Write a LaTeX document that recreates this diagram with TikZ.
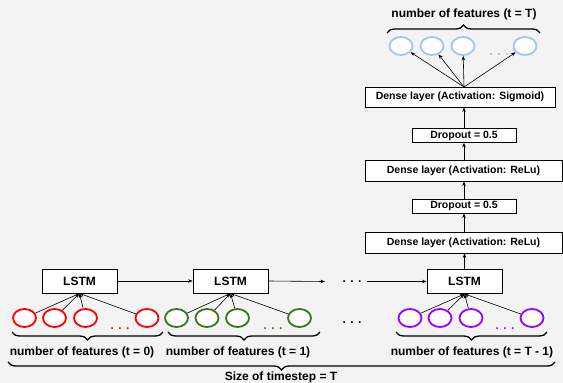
\documentclass[tikz,border=0pt]{standalone}
\usepackage{fontspec}
\setmainfont{Liberation Sans}
\usetikzlibrary{arrows.meta,decorations.pathreplacing,shapes.geometric}
\definecolor{bgc}{HTML}{F3F3F3}
\definecolor{fred}{HTML}{FF0000}
\definecolor{fgreen}{HTML}{38761D}
\definecolor{fpurple}{HTML}{9900FF}
\definecolor{fblue}{HTML}{A4C2F4}
\begin{document}
\begin{tikzpicture}[x=1pt,y=-1pt,
  box/.style={draw=black, fill=white, line width=0.8pt, inner sep=0pt, font=\bfseries\fontsize{10.5}{12}\selectfont},
  lstmbox/.style={box, minimum width=75pt, minimum height=24pt, font=\bfseries\fontsize{12}{14}\selectfont},
  densebox/.style={box, minimum width=197pt, minimum height=21pt},
  dropbox/.style={box, minimum width=104pt, minimum height=14pt},
  feat/.style={ellipse, draw=#1, line width=1.8pt, fill=white, minimum width=23pt, minimum height=18pt, inner sep=0pt},
  arr/.style={-{Stealth[length=4.5pt,width=3.5pt]}, line width=0.6pt},
  brc/.style={decorate, decoration={brace, amplitude=8pt}, line width=1.3pt},
  lbl/.style={font=\bfseries\fontsize{12}{14}\selectfont},
  dotsnode/.style={anchor=base, font=\bfseries\fontsize{12}{14}\selectfont, text=#1, inner sep=0pt}
]
\fill[bgc] (0,0) rectangle (563,383);
\useasboundingbox (0,0) rectangle (563,383);

% LSTM boxes
\node[lstmbox] (l1) at (79.5,281) {LSTM};
\node[lstmbox] (l2) at (230.5,281) {LSTM};
\node[lstmbox] (l3) at (464.5,281.5) {LSTM};
\coordinate (m1) at (325,281.5);
\coordinate (m2) at (367,281.5);
\node[dotsnode=black] (rowdots) at (352,282) {. . .};
\draw[arr] (l1.east) -- (l2.west);
\draw[arr] (l2.east) -- (m1);
\draw[arr] (m2) -- (l3.west);

% feature circles t=0
\node[feat=fred] (r1) at (24.5,318) {};
\node[feat=fred] (r2) at (54.5,318) {};
\node[feat=fred] (r3) at (85.5,318) {};
\node[feat=fred] (r4) at (147,318) {};
\node[dotsnode=fred] (rd) at (120,329) {. . .};
% t=1
\node[feat=fgreen] (g1) at (176.5,318) {};
\node[feat=fgreen] (g2) at (207,318) {};
\node[feat=fgreen] (g3) at (237.5,318) {};
\node[feat=fgreen] (g4) at (299.5,318) {};
\node[dotsnode=fgreen] (gd) at (273,329) {. . .};
% middle dots
\node[dotsnode=black] (md) at (352,323) {. . .};
% t=T-1
\node[feat=fpurple] (p1) at (410,318) {};
\node[feat=fpurple] (p2) at (440,318) {};
\node[feat=fpurple] (p3) at (471,318) {};
\node[feat=fpurple] (p4) at (532,318) {};
\node[dotsnode=fpurple] (pd) at (505,329) {. . .};

\foreach \c in {r1,r2,r3,r4} \draw[arr] (\c) -- (l1.south);
\foreach \c in {g1,g2,g3,g4} \draw[arr] (\c) -- (l2.south);
\foreach \c in {p1,p2,p3,p4} \draw[arr] (\c) -- (l3.south);

% braces bottom
\draw[brc] (163,332) -- (12,332);
\node[lbl] (lab0) at (82,352) {number of features (t = 0)};
\draw[brc] (320,332) -- (168,332);
\node[lbl] (lab1) at (238,352) {number of features (t = 1)};
\draw[brc] (547,332) -- (396,332);
\node[lbl] (lab2) at (472,352) {number of features (t = T - 1)};
\draw[brc] (555,362) -- (8,362);
\node[lbl] (labT) at (281,377) {Size of timestep = T};

% dense stack
\node[densebox] (d1) at (463.5,242.5) {Dense layer (Activation: ReLu)};
\node[dropbox] (do1) at (464,206) {Dropout = 0.5};
\node[densebox] (d2) at (463.5,170.5) {Dense layer (Activation: ReLu)};
\node[dropbox] (do2) at (464,135.5) {Dropout = 0.5};
\node[box, minimum width=190pt, minimum height=20pt] (sg) at (460,97) {Dense layer (Activation: Sigmoid)};

\draw[arr] (l3.north) -- (l3.north |- d1.south);
\draw[arr] (do1.north |- d1.north) -- (do1.south);
\draw[arr] (do1.north) -- (do1.north |- d2.south);
\draw[arr] (do2.north |- d2.north) -- (do2.south);
\draw[arr] (do2.north) -- (do2.north |- sg.south);

% output circles
\node[feat=fblue] (b1) at (401,46) {};
\node[feat=fblue] (b2) at (432,46) {};
\node[feat=fblue] (b3) at (463,46) {};
\node[feat=fblue] (b4) at (525,46) {};
\node[dotsnode=fblue] (bd) at (499,55) {. . .};
\coordinate (top) at (464,87);
\foreach \c in {b1,b2,b3,b4} \draw[arr] (top) -- (\c);

\draw[brc] (387,33) -- (540,33);
\node[lbl] (labTop) at (464,14) {number of features (t = T)};
\end{tikzpicture}
\end{document}
